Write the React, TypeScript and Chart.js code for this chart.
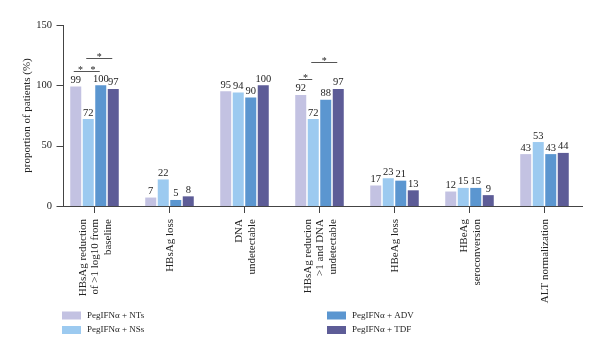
import React, { useEffect, useRef } from "react";
import { Chart, registerables } from "chart.js";

Chart.register(...registerables);

const categories: string[][] = [
  ["HBsAg reduction", "of >1 log10 from", "baseline"],
  ["HBsAg loss"],
  ["DNA", "undetectable"],
  ["HBsAg reducion", ">1 and DNA", "undetectable"],
  ["HBeAg loss"],
  ["HBeAg", "seroconversion"],
  ["ALT normalization"],
];

const seriesNames = ["PegIFNα + NTs", "PegIFNα + NSs", "PegIFNα + ADV", "PegIFNα + TDF"];
const ntsValues = [99, 7, 95, 92, 17, 12, 43];
const nssValues = [72, 22, 94, 72, 23, 15, 53];
const advValues = [100, 5, 90, 88, 21, 15, 43];
const tdfValues = [97, 8, 100, 97, 13, 9, 44];
const seriesColors = ["#c3c2e2", "#9ccaf0", "#5b96d0", "#5d5c97"];

const yTickValues = [0, 50, 100, 150];
const yTitle = "proportion of patients (%)";

// significance brackets: category index, from-series, to-series, height (in %)
const bracketCategory = [0, 0, 0, 3, 3];
const bracketFrom = [0, 1, 1, 0, 1];
const bracketTo = [1, 2, 3, 1, 3];
const bracketLevel = [112, 112, 123, 105, 119];

const SERIF = "'Liberation Serif', 'DejaVu Serif', serif";
const TEXT = "#222222";
const AXIS = "#444444";

const overlayPlugin = {
  id: "overlay",
  afterDatasetsDraw(chart: any) {
    const ctx = chart.ctx;
    ctx.save();
    // value labels
    ctx.fillStyle = TEXT;
    ctx.font = `10.5px ${SERIF}`;
    ctx.textAlign = "center";
    ctx.textBaseline = "bottom";
    chart.data.datasets.forEach((ds: any, d: number) => {
      const meta = chart.getDatasetMeta(d);
      meta.data.forEach((bar: any, i: number) => {
        ctx.fillText(String(ds.data[i]), bar.x, bar.y - 1);
      });
    });
    // brackets
    const yScale = chart.scales.y;
    ctx.strokeStyle = "#555555";
    ctx.lineWidth = 1;
    ctx.font = `10px ${SERIF}`;
    ctx.textBaseline = "alphabetic";
    for (let k = 0; k < bracketCategory.length; k++) {
      const c = bracketCategory[k];
      const b1 = chart.getDatasetMeta(bracketFrom[k]).data[c];
      const b2 = chart.getDatasetMeta(bracketTo[k]).data[c];
      const y = Math.round(yScale.getPixelForValue(bracketLevel[k])) + 0.5;
      const x1 = b1.x - 2;
      const x2 = b2.x - 1;
      ctx.beginPath();
      ctx.moveTo(x1, y);
      ctx.lineTo(x2, y);
      ctx.stroke();
      ctx.fillText("*", (x1 + x2) / 2, y + 1);
    }
    ctx.restore();
  },
  afterDraw(chart: any) {
    const ctx = chart.ctx;
    const area = chart.chartArea;
    const yScale = chart.scales.y;
    const xScale = chart.scales.x;
    ctx.save();
    // y axis line and ticks
    const axisX = area.left + 6.5;
    ctx.strokeStyle = AXIS;
    ctx.lineWidth = 1;
    ctx.beginPath();
    ctx.moveTo(axisX, yScale.getPixelForValue(150));
    ctx.lineTo(axisX, area.bottom);
    yTickValues.forEach((v) => {
      const py = Math.round(yScale.getPixelForValue(v)) + 0.5;
      ctx.moveTo(axisX - 7, py);
      ctx.lineTo(axisX, py);
    });
    ctx.stroke();
    // x category labels (rotated)
    ctx.fillStyle = TEXT;
    ctx.font = `11px ${SERIF}`;
    ctx.textAlign = "right";
    ctx.textBaseline = "middle";
    const lh = 12.5;
    categories.forEach((lines, i) => {
      const cx = xScale.getPixelForTick(i);
      const n = lines.length;
      lines.forEach((line, j) => {
        const lx = cx + 1 + (j - (n - 1) / 2) * lh;
        ctx.save();
        ctx.translate(lx, area.bottom + 13);
        ctx.rotate(-Math.PI / 2);
        ctx.fillText(line, 0, 0);
        ctx.restore();
      });
    });
    // legend
    const legendX = [62, 62, 327, 327];
    const legendY = [315.5, 330, 315.5, 330];
    ctx.font = `9px ${SERIF}`;
    ctx.textAlign = "left";
    ctx.textBaseline = "middle";
    seriesNames.forEach((name, k) => {
      ctx.fillStyle = seriesColors[k];
      ctx.fillRect(legendX[k], legendY[k] - 4, 19, 8);
      ctx.fillStyle = TEXT;
      ctx.fillText(name, legendX[k] + 25, legendY[k]);
    });
    ctx.restore();
  },
};

export default function App() {
  const canvasRef = useRef<HTMLCanvasElement | null>(null);

  useEffect(() => {
    if (!canvasRef.current) return;
    const values = [ntsValues, nssValues, advValues, tdfValues];
    const chart = new Chart(canvasRef.current, {
      type: "bar",
      data: {
        labels: categories.map((c) => c.join(" ")),
        datasets: seriesNames.map((name, k) => ({
          label: name,
          data: values[k],
          backgroundColor: seriesColors[k],
          borderWidth: 0,
          categoryPercentage: 0.667,
          barPercentage: 0.88,
        })),
      },
      options: {
        responsive: false,
        animation: false,
        devicePixelRatio: 1,
        layout: { padding: { top: 25, right: 18, left: 0, bottom: 0 } },
        plugins: {
          legend: { display: false },
          tooltip: { enabled: false },
        },
        scales: {
          x: {
            type: "category",
            grid: {
              display: true,
              offset: false,
              drawOnChartArea: false,
              drawTicks: true,
              tickLength: 7,
              color: AXIS,
            },
            border: { display: true, color: AXIS, width: 1 },
            ticks: { display: false },
            afterFit: (s: any) => {
              s.height = 150;
            },
          },
          y: {
            min: 0,
            max: 150,
            ticks: {
              stepSize: 50,
              padding: 5,
              color: TEXT,
              font: { family: SERIF, size: 10.5 },
            },
            grid: { display: false, drawTicks: false },
            border: { display: false },
            title: {
              display: true,
              text: yTitle,
              color: TEXT,
              font: { family: SERIF, size: 11 },
              padding: { top: 21, bottom: 0 },
            },
            afterFit: (s: any) => {
              s.width = 57;
            },
          },
        },
      },
      plugins: [overlayPlugin],
    } as any);
    return () => chart.destroy();
  }, []);

  return (
    <div style={{ position: "absolute", left: 0, top: 0, width: 600, height: 356, background: "#fff" }}>
      <canvas ref={canvasRef} width={600} height={356} style={{ display: "block" }} />
    </div>
  );
}
